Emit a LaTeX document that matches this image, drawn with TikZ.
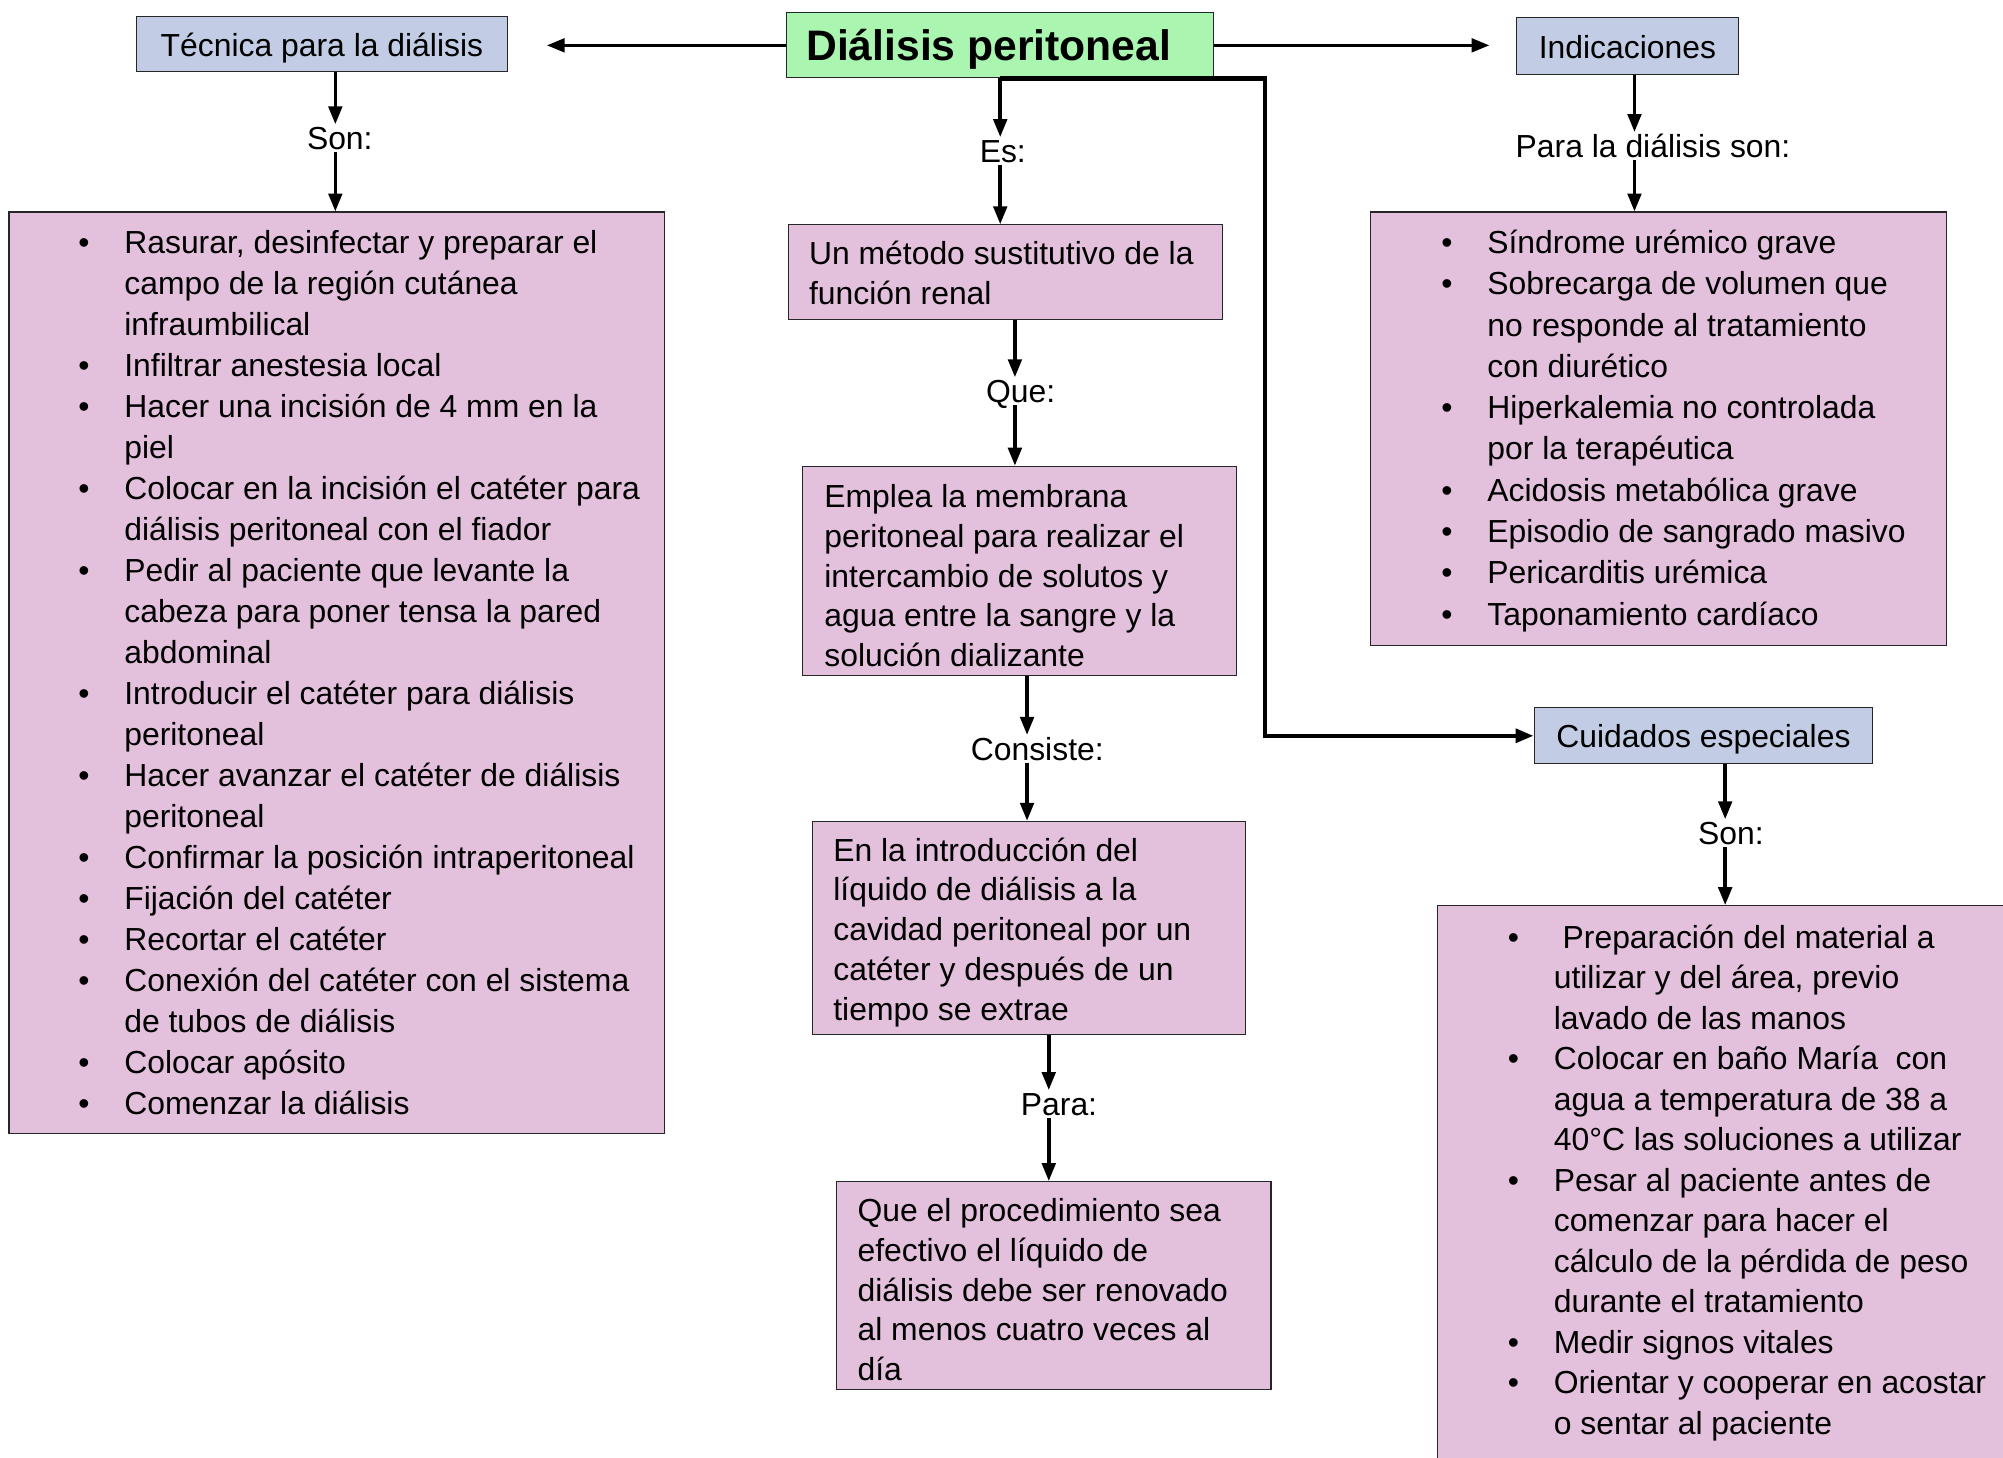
\documentclass[tikz,border=0pt]{standalone}
\usepackage{fontspec}
\setmainfont{Liberation Sans}
\usetikzlibrary{positioning,arrows.meta}

\definecolor{rosa}{HTML}{E3C0DC}
\definecolor{azul}{HTML}{C2CCE4}
\definecolor{verde}{HTML}{AAF5B0}

\newcommand{\bul}{\makebox[0.72cm][l]{\textbullet}}
\newcommand{\sig}{\hspace*{0.72cm}}

\begin{document}
\begin{tikzpicture}
	\tikzset{
		letra/.style={font=\fontsize{14.2}{#1}\selectfont},
		letra/.default=18.27,
		caja/.style={draw=black!85,line width=0.5pt,inner sep=0pt},
		rosabox/.style={caja,fill=rosa},
		azulbox/.style={caja,fill=azul,letra,text height=13.8pt,text depth=3pt},
		texto/.style={letra,inner sep=0pt,align=left,anchor=north west},
		etiqueta/.style={letra,inner sep=1pt,text height=10pt,text depth=0pt,anchor=base},
		flecha/.style={line width=1.6pt,-{Triangle[width=6pt,length=8pt]}}
	}
	\useasboundingbox (0,0) rectangle (31.36,-22.827);
	\clip (0,0) rectangle (31.36,-22.827);
	% cajas de arriba
	\node[caja,fill=verde,minimum width=6.68cm,minimum height=1.02cm,text height=17.3pt,text depth=4pt,font=\bfseries\fontsize{19}{22}\selectfont] (dp) at (15.66,-0.71) {Diálisis peritoneal\hspace*{0.36cm}};
	\node[azulbox,minimum width=5.8cm,minimum height=0.86cm] (tec) at (5.04,-0.69) {Técnica para la diálisis};
	\node[azulbox,minimum width=3.48cm,minimum height=0.88cm] (ind) at (25.48,-0.72) {Indicaciones};
	\node[azulbox,minimum width=5.3cm,minimum height=0.88cm] (cui) at (26.67,-11.52) {Cuidados especiales};
	% cajas rosas
	\node[rosabox,minimum width=10.26cm,minimum height=14.42cm] (tlist) at (5.27,-10.53) {};
	\node[rosabox,minimum width=6.8cm,minimum height=1.48cm] (m1) at (15.74,-4.26) {};
	\node[rosabox,minimum width=6.8cm,minimum height=3.28cm] (m2) at (15.96,-8.94) {};
	\node[rosabox,minimum width=6.78cm,minimum height=3.34cm] (m3) at (16.11,-14.53) {};
	\node[rosabox,minimum width=6.8cm,minimum height=3.26cm] (m4) at (16.5,-20.13) {};
	\node[rosabox,minimum width=9.02cm,minimum height=6.78cm] (ilist) at (25.97,-6.71) {};
	\node[rosabox,minimum width=9.5cm,minimum height=9.42cm] (clist) at (27.25,-18.89) {};
	% textos
	\node[texto] (ttec) at (1.22,-3.508) {\strut\bul Rasurar, desinfectar y preparar el\\
		\sig campo de la región cutánea\\
		\sig infraumbilical\\
		\bul Infiltrar anestesia local\\
		\bul Hacer una incisión de 4 mm en la\\
		\sig piel\\
		\bul Colocar en la incisión el catéter para\\
		\sig diálisis peritoneal con el fiador\\
		\bul Pedir al paciente que levante la\\
		\sig cabeza para poner tensa la pared\\
		\sig abdominal\\
		\bul Introducir el catéter para diálisis\\
		\sig peritoneal\\
		\bul Hacer avanzar el catéter de diálisis\\
		\sig peritoneal\\
		\bul Confirmar la posición intraperitoneal\\
		\bul Fijación del catéter\\
		\bul Recortar el catéter\\
		\bul Conexión del catéter con el sistema\\
		\sig de tubos de diálisis\\
		\bul Colocar apósito\\
		\bul Comenzar la diálisis};
	\node[texto,letra=17.76] (tm1) at (12.66,-3.698) {\strut Un método sustitutivo de la\\función renal};
	\node[texto,letra=17.76] (tm2) at (12.90,-7.498) {\strut Emplea la membrana\\peritoneal para realizar el\\intercambio de solutos y\\agua entre la sangre y la\\solución dializante};
	\node[texto,letra=17.76] (tm3) at (13.04,-13.038) {\strut En la introducción del\\líquido de diálisis a la\\cavidad peritoneal por un\\catéter y después de un\\tiempo se extrae};
	\node[texto,letra=17.76] (tm4) at (13.42,-18.678) {\strut Que el procedimiento sea\\efectivo el líquido de\\diálisis debe ser renovado\\al menos cuatro veces al\\día};
	\node[texto,letra=18.4] (tind) at (22.56,-3.508) {\strut\bul Síndrome urémico grave\\
		\bul Sobrecarga de volumen que\\
		\sig no responde al tratamiento\\
		\sig con diurético\\
		\bul Hiperkalemia no controlada\\
		\sig por la terapéutica\\
		\bul Acidosis metabólica grave\\
		\bul Episodio de sangrado masivo\\
		\bul Pericarditis urémica\\
		\bul Taponamiento cardíaco};
	\node[texto,letra=18.05] (tcui) at (23.60,-14.393) {\strut\bul\ Preparación del material a\\
		\sig utilizar y del área, previo\\
		\sig lavado de las manos\\
		\bul Colocar en baño María\ \ con\\
		\sig agua a temperatura de 38 a\\
		\sig 40°C las soluciones a utilizar\\
		\bul Pesar al paciente antes de\\
		\sig comenzar para hacer el\\
		\sig cálculo de la pérdida de peso\\
		\sig durante el tratamiento\\
		\bul Medir signos vitales\\
		\bul Orientar y cooperar en acostar\\
		\sig o sentar al paciente};
	% etiquetas
	\node[etiqueta] (son1) at (5.32,-2.34) {Son:};
	\node[etiqueta] (es) at (15.70,-2.54) {Es:};
	\node[etiqueta] (que) at (15.98,-6.30) {Que:};
	\node[etiqueta] (consiste) at (16.24,-11.90) {Consiste:};
	\node[etiqueta] (para) at (16.58,-17.46) {Para:};
	\node[etiqueta] (pds) at (25.88,-2.46) {Para la diálisis son:};
	\node[etiqueta] (son2) at (27.10,-13.22) {Son:};
	% columnas de las flechas
	\coordinate (xtec) at (5.25,0);
	\coordinate (xdp) at (15.66,0);
	\coordinate (xm1) at (15.89,0);
	\coordinate (xm2) at (16.08,0);
	\coordinate (xm3) at (16.42,0);
	\coordinate (xind) at (25.59,0);
	\coordinate (xcui) at (27.01,0);
	\coordinate (xcodo) at (19.8,0);
	\coordinate (tecin) at (8.56,0);
	\coordinate (indin) at (23.32,0);
	\path[flecha]
		(dp.west) edge (dp.west -| tecin)
		(dp.east) edge (dp.east -| indin)
		(tec.south -| xtec) edge (son1.north -| xtec)
		(son1.south -| xtec) edge (tlist.north -| xtec)
		(dp.south -| xdp) edge (es.north -| xdp)
		(es.south -| xdp) edge (m1.north -| xdp)
		(m1.south -| xm1) edge (que.north -| xm1)
		(que.south -| xm1) edge (m2.north -| xm1)
		(m2.south -| xm2) edge (consiste.north -| xm2)
		(consiste.south -| xm2) edge (m3.north -| xm2)
		(m3.south -| xm3) edge (para.north -| xm3)
		(para.south -| xm3) edge (m4.north -| xm3)
		(ind.south -| xind) edge (pds.north -| xind)
		(pds.south -| xind) edge (ilist.north -| xind)
		(cui.south -| xcui) edge (son2.north -| xcui)
		(son2.south -| xcui) edge (clist.north -| xcui);
	\draw[flecha,line width=1.9pt] (dp.south -| xdp) -- (dp.south -| xcodo) -- (cui.west -| xcodo) -- (cui.west);
\end{tikzpicture}
\end{document}
